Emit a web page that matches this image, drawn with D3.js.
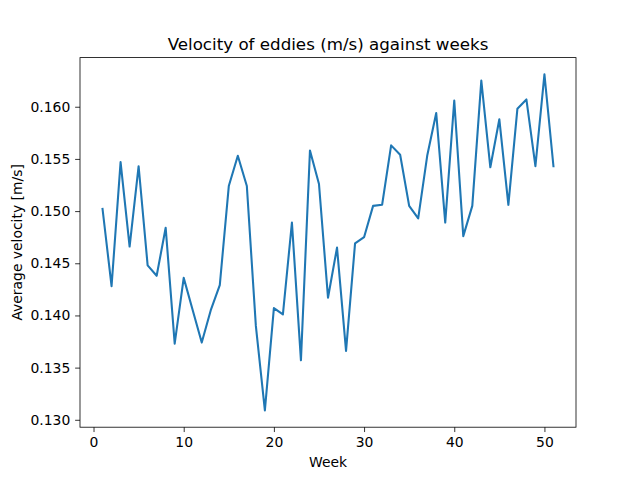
<!DOCTYPE html>
<html>
<head>
<meta charset="utf-8">
<script src="https://cdn.jsdelivr.net/npm/d3@7"></script>
<style>
  body { margin: 0; background: #fff; }
  svg text { font-family: "DejaVu Sans", sans-serif; fill: #000; }
</style>
</head>
<body>
<div id="chart"></div>
<script>
/* Velocity of eddies — weekly line plot */

const weeks = d3.range(1, 52);
const velocity = [
  0.1502, 0.1428, 0.1547, 0.1466, 0.1543, 0.1448, 0.1438, 0.1484, 0.1373, 0.1436,
  0.1405, 0.1374, 0.1405, 0.1429, 0.1524, 0.1553, 0.1524, 0.1390, 0.1309, 0.1407,
  0.1401, 0.1489, 0.1357, 0.1558, 0.1526, 0.1417, 0.1465, 0.1366, 0.1469, 0.1475,
  0.1505, 0.1506, 0.1563, 0.1554, 0.1505, 0.1493, 0.1553, 0.1594, 0.1489, 0.1606,
  0.1476, 0.1505, 0.1625, 0.1542, 0.1588, 0.1506, 0.1598, 0.1607, 0.1543, 0.1631,
  0.1543
];
const xTicks = [0, 10, 20, 30, 40, 50];
const yTicks = [0.130, 0.135, 0.140, 0.145, 0.150, 0.155, 0.160];

const W = 640, H = 480;
const margin = { left: 80, right: 64, top: 57.6, bottom: 52.8 };

const svg = d3.select("#chart").append("svg")
  .attr("width", W).attr("height", H);

// matplotlib-style 5% padding on both axes
const xExt = d3.extent(weeks), yExt = d3.extent(velocity);
const xPad = (xExt[1] - xExt[0]) * 0.05, yPad = (yExt[1] - yExt[0]) * 0.05;

const x = d3.scaleLinear()
  .domain([xExt[0] - xPad, xExt[1] + xPad])
  .range([margin.left, W - margin.right]);
const y = d3.scaleLinear()
  .domain([yExt[0] - yPad, yExt[1] + yPad])
  .range([H - margin.bottom, margin.top]);

const tickSize = 4.86;

svg.append("g")
  .attr("transform", `translate(0,${H - margin.bottom})`)
  .call(d3.axisBottom(x).tickValues(xTicks).tickSize(tickSize).tickPadding(4.9).tickFormat(d3.format("d")))
  .call(g => g.select(".domain").remove());

svg.append("g")
  .attr("transform", `translate(${margin.left},0)`)
  .call(d3.axisLeft(y).tickValues(yTicks).tickSize(tickSize).tickPadding(4.9).tickFormat(d3.format(".3f")))
  .call(g => g.select(".domain").remove());

svg.selectAll(".tick line").attr("stroke", "#000").attr("stroke-width", 0.8);
svg.selectAll(".tick text").style("font-size", "13.9px").style("font-family", "DejaVu Sans, sans-serif");

// line
const line = d3.line()
  .x((d, i) => x(weeks[i]))
  .y(d => y(d));

svg.append("path")
  .datum(velocity)
  .attr("fill", "none")
  .attr("stroke", "#1f77b4")
  .attr("stroke-width", 2.08)
  .attr("stroke-linejoin", "round")
  .attr("stroke-linecap", "square")
  .attr("d", line);

// frame
svg.append("rect")
  .attr("x", margin.left).attr("y", margin.top)
  .attr("width", W - margin.left - margin.right)
  .attr("height", H - margin.top - margin.bottom)
  .attr("fill", "none").attr("stroke", "#000").attr("stroke-width", 0.8);

// labels
svg.append("text")
  .attr("x", (margin.left + W - margin.right) / 2).attr("y", 50)
  .attr("text-anchor", "middle").style("font-size", "16.7px")
  .text("Velocity of eddies (m/s) against weeks");

svg.append("text")
  .attr("x", (margin.left + W - margin.right) / 2).attr("y", 467)
  .attr("text-anchor", "middle").style("font-size", "13.9px")
  .text("Week");

svg.append("text")
  .attr("transform", `translate(22,${(margin.top + H - margin.bottom) / 2}) rotate(-90)`)
  .attr("text-anchor", "middle").style("font-size", "13.9px")
  .text("Average velocity [m/s]");
</script>
</body>
</html>
